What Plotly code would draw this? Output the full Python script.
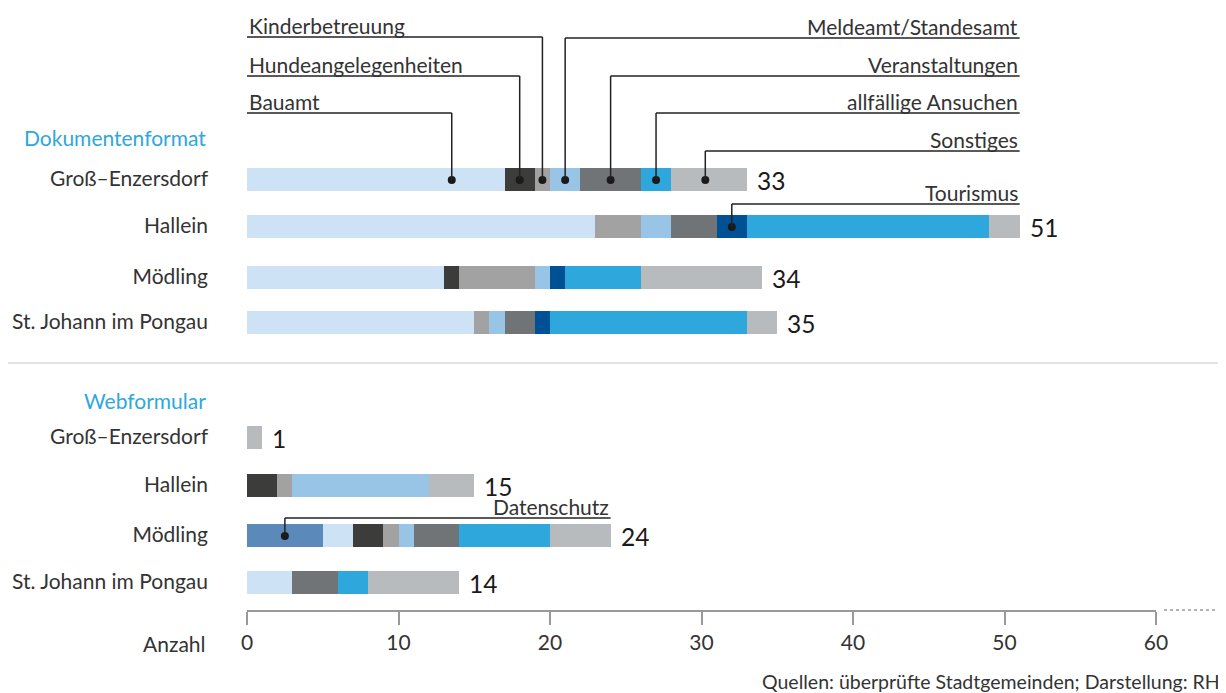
import plotly.graph_objects as go

# ---------------- data ----------------
rows = ["Groß–Enzersdorf", "Hallein", "Mödling", "St. Johann im Pongau",
        "Groß–Enzersdorf", "Hallein", "Mödling", "St. Johann im Pongau"]
series = ["Datenschutz", "Bauamt", "Hundeangelegenheiten", "Kinderbetreuung",
          "Meldeamt/Standesamt", "Veranstaltungen", "Tourismus",
          "allfällige Ansuchen", "Sonstiges"]
datenschutz     = [0, 0, 0, 0, 0, 0, 5, 0]
bauamt          = [17, 23, 13, 15, 0, 0, 2, 3]
hunde           = [2, 0, 1, 0, 0, 2, 2, 0]
kinder          = [1, 3, 5, 1, 0, 1, 1, 0]
meldeamt        = [2, 2, 1, 1, 0, 9, 1, 0]
veranstaltungen = [4, 3, 0, 2, 0, 0, 3, 3]
tourismus       = [0, 2, 1, 1, 0, 0, 0, 0]
ansuchen        = [2, 16, 5, 13, 0, 0, 6, 2]
sonstiges       = [5, 2, 8, 2, 1, 3, 4, 6]
values = [datenschutz, bauamt, hunde, kinder, meldeamt, veranstaltungen,
          tourismus, ansuchen, sonstiges]
x_ticks = [0, 10, 20, 30, 40, 50, 60]

# ---------------- style ----------------
colors = ["#5b8aba", "#cde2f4", "#3c3c3a", "#a2a2a2", "#98c5e6",
          "#707477", "#005096", "#2ea7dc", "#b8bbbe"]
OFF = 8                      # page body margin compensation
W, H = 1226 - OFF, 693 - OFF
row_y = [179, 226, 277, 322, 437, 485, 535, 582]   # row centres (window px)
FONT = "Lato"
FS = 21
TXT = "#333333"
X0PX, X60PX = 247 - OFF, 1156 - OFF
PLOT_BOTTOM = 610


def py(ypx):
    """window pixel row -> paper y"""
    return (PLOT_BOTTOM - ypx) / (PLOT_BOTTOM - OFF)


def px(xpx):
    """window pixel column -> paper x"""
    return (xpx - OFF) / W


fig = go.Figure()
for name, vals, col in zip(series, values, colors):
    fig.add_trace(go.Bar(
        y=row_y, x=vals, name=name, orientation="h",
        marker=dict(color=col, line=dict(width=0)), width=23,
        showlegend=False, hoverinfo="x+name"))

totals = [sum(v[i] for v in values) for i in range(len(rows))]
annotations = []
for t, y in zip(totals, row_y):
    annotations.append(dict(x=t, y=y + 1, xref="x", yref="y", text=str(t),
                            showarrow=False, xanchor="left", yanchor="middle",
                            xshift=8, font=dict(size=24.5, color="#1a1a1a", family=FONT)))

# callouts: (series index, row index, line y, side, fraction along segment, text x end)
callouts = [
    (3, 0, 37, "left", 0.5, None),
    (2, 0, 76, "left", 0.5, None),
    (1, 0, 113, "left", 0.795, None),
    (4, 0, 38, "right", 0.5, 51),
    (5, 0, 76, "right", 0.5, 51),
    (7, 0, 113, "right", 0.5, 51),
    (8, 0, 151, "right", 0.45, 51),
    (6, 1, 204, "right", 0.5, 51),
    (0, 6, 518, "right", 0.5, 24),
]
shapes = []
dots_x, dots_y = [], []
for si, ri, ly, side, frac, xend in callouts:
    start = sum(values[k][ri] for k in range(si))
    dx = start + values[si][ri] * frac
    dy = row_y[ri] + 1
    dots_x.append(dx)
    dots_y.append(dy)
    if side == "left":
        x0, x1, tx, anc = 0, dx, 0, "left"
    else:
        x0, x1, tx, anc = dx, xend, xend, "right"
    shapes.append(dict(type="line", xref="x", yref="y", x0=x0, x1=x1, y0=ly, y1=ly,
                       line=dict(color="#222", width=1.5)))
    shapes.append(dict(type="line", xref="x", yref="y", x0=dx, x1=dx, y0=ly, y1=dy,
                       line=dict(color="#222", width=1.5)))
    annotations.append(dict(x=tx, y=ly - 12, xref="x", yref="y", text=series[si],
                            showarrow=False, xanchor=anc, yanchor="middle",
                            font=dict(size=FS, color=TXT, family=FONT)))

fig.add_trace(go.Scatter(x=dots_x, y=dots_y, mode="markers",
                         marker=dict(color="#1a1a1a", size=8),
                         showlegend=False, hoverinfo="skip", cliponaxis=False))

# separator line and dotted axis extension
shapes.append(dict(type="line", xref="paper", yref="paper", x0=px(0), x1=px(1222),
                   y0=py(363), y1=py(363), line=dict(color="#d9d9d9", width=1.5)))
shapes.append(dict(type="line", xref="paper", yref="paper", x0=px(1164), x1=1.0,
                   y0=0, y1=0, line=dict(color="#999999", width=1.5, dash="dot")))

lab_x = px(208)
annotations += [
    dict(x=lab_x, y=py(138), xref="paper", yref="paper", text="Dokumentenformat",
         showarrow=False, xanchor="right", yanchor="middle",
         font=dict(size=FS, color="#2ea7dc", family=FONT)),
    dict(x=lab_x, y=py(400), xref="paper", yref="paper", text="Webformular",
         showarrow=False, xanchor="right", yanchor="middle",
         font=dict(size=FS, color="#2ea7dc", family=FONT)),
    dict(x=lab_x, y=py(643), xref="paper", yref="paper", text="Anzahl",
         showarrow=False, xanchor="right", yanchor="middle",
         font=dict(size=FS, color=TXT, family=FONT)),
    dict(x=px(1222), y=py(682), xref="paper", yref="paper",
         text="Quellen: überprüfte Stadtgemeinden; Darstellung: RH",
         showarrow=False, xanchor="right", yanchor="middle",
         font=dict(size=19.5, color=TXT, family=FONT)),
]

fig.update_layout(
    width=W, height=H, barmode="stack", bargap=0,
    plot_bgcolor="white", paper_bgcolor="white",
    margin=dict(l=0, r=0, t=0, b=693 - PLOT_BOTTOM, pad=0, autoexpand=False),
    font=dict(family=FONT, size=FS, color=TXT),
    shapes=shapes, annotations=annotations,
    xaxis=dict(domain=[X0PX / W, X60PX / W], range=[0, 60], tickvals=x_ticks,
               automargin=False,
               showgrid=False, zeroline=False, showline=True, linecolor="#999999",
               linewidth=1.5, ticks="outside", ticklen=13, tickwidth=1.5,
               tickcolor="#999999", tickfont=dict(size=FS, color=TXT, family=FONT),
               fixedrange=True),
    yaxis=dict(range=[PLOT_BOTTOM, OFF], tickvals=row_y, ticktext=rows,
               automargin=False,
               showgrid=False, zeroline=False, showline=False, ticks="",
               ticklabelstandoff=38, tickfont=dict(size=FS, color=TXT, family=FONT),
               fixedrange=True),
)
fig.write_html("out.html")
